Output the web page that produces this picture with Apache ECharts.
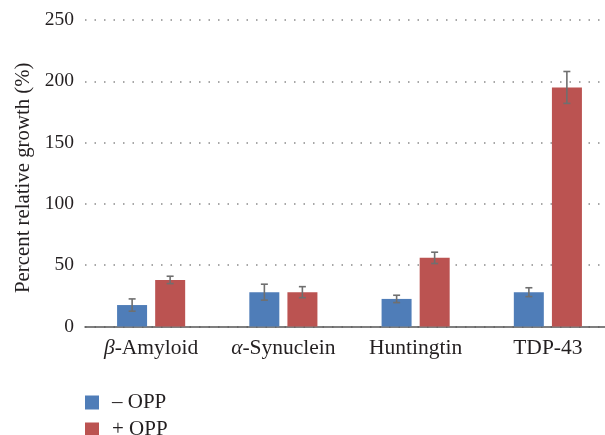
<!DOCTYPE html>
<html><head><meta charset="utf-8">
<script src="https://cdn.jsdelivr.net/npm/echarts@6/dist/echarts.min.js"></script>
<style>html,body{margin:0;padding:0;background:#fff}#c{width:605px;height:435px}</style>
</head><body><div id="c"></div>
<script>
const categories = ['β-Amyloid', 'α-Synuclein', 'Huntingtin', 'TDP-43'];
const minusOPP = [17.5, 28, 22.5, 28];
const minusErr = [5, 6.5, 3, 3.6];
const plusOPP = [38, 28, 56, 195];
const plusErr = [3, 4.5, 4.6, 13];
const seriesNames = ['– OPP', '+ OPP'];
const yTicks = [0, 50, 100, 150, 200, 250];

const FONT = '"Liberation Serif", "DejaVu Serif", serif';
const TXT = '#231f20';
const BLUE = '#4F7DB8', RED = '#BB5351';
const BAR_W = 30, OFFSET = 19;

function errSeries(name, vals, errs, off) {
  return {
    type: 'custom', name: name + ' err', z: 5,
    silent: true,
    data: vals.map((v, i) => [i, v, errs[i]]),
    renderItem: function (params, api) {
      const i = api.value(0), v = api.value(1), e = api.value(2);
      const hi = api.coord([i, v + e]), lo = api.coord([i, v - e]);
      const x = hi[0] + off, cw = 3.5;
      const st = { stroke: '#6f6f6f', lineWidth: 1.6 };
      return { type: 'group', children: [
        { type: 'line', shape: { x1: x, y1: hi[1], x2: x, y2: lo[1] }, style: st },
        { type: 'line', shape: { x1: x - cw, y1: hi[1], x2: x + cw, y2: hi[1] }, style: st },
        { type: 'line', shape: { x1: x - cw, y1: lo[1], x2: x + cw, y2: lo[1] }, style: st }
      ]};
    }
  };
}

function legendFor(name, top) {
  return {
    left: 85, top: top, padding: 0, itemWidth: 14, itemHeight: 14,
    icon: 'rect', data: [name],
    textStyle: { fontFamily: FONT, fontSize: 21, lineHeight: 14, color: TXT, padding: [0, 0, 0, 8] }
  };
}

const chart = echarts.init(document.getElementById('c'), null, { renderer: 'canvas' });
chart.setOption({
  animation: false,
  backgroundColor: '#fff',
  textStyle: { fontFamily: FONT },
  grid: { left: 85, top: 20, width: 529, bottom: 108.5, containLabel: false, outerBoundsMode: 'none' },
  legend: [legendFor(seriesNames[0], 392), legendFor(seriesNames[1], 419)],
  xAxis: {
    type: 'category', data: categories,
    axisLine: { show: true, lineStyle: { color: '#555', width: 1.5 } }, axisTick: { show: false },
    axisLabel: { interval: 0, margin: 11, fontSize: 21.5, color: TXT, fontFamily: FONT,
      formatter: function (v) {
        if (v[0] === 'β' || v[0] === 'α') return '{i|' + v[0] + '}' + v.slice(1);
        return v;
      },
      rich: { i: { fontStyle: 'italic', fontSize: 21.5, fontFamily: FONT, color: TXT } }
    }
  },
  yAxis: {
    type: 'value', min: yTicks[0], max: yTicks[yTicks.length - 1], interval: 50,
    name: 'Percent relative growth (%)', nameLocation: 'middle', nameRotate: 90, nameGap: 50,
    nameTextStyle: { fontSize: 20.8, color: TXT, fontFamily: FONT, padding: [0, 9, 0, 0] },
    axisLine: { show: false }, axisTick: { show: false },
    axisLabel: { margin: 11, fontSize: 19.5, color: TXT, fontFamily: FONT },
    splitLine: { show: true, lineStyle: { color: '#8a8a8a', type: [1.5, 8], width: 1.5 } }
  },
  series: [
    { name: seriesNames[0], type: 'bar', data: minusOPP,
      barWidth: BAR_W, barGap: '27%', itemStyle: { color: BLUE } },
    { name: seriesNames[1], type: 'bar', data: plusOPP,
      barWidth: BAR_W, barGap: '27%', itemStyle: { color: RED } },
    errSeries(seriesNames[0], minusOPP, minusErr, -OFFSET),
    errSeries(seriesNames[1], plusOPP, plusErr, OFFSET)
  ]
});
</script></body></html>
